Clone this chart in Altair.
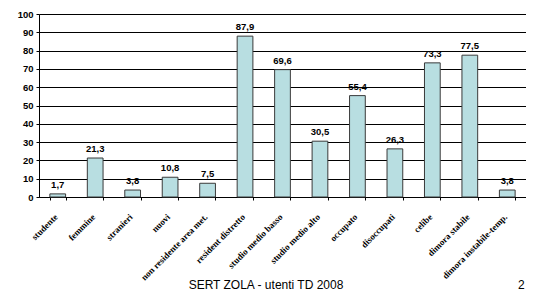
import altair as alt
import pandas as pd

categories = ["studente", "femmine", "stranieri", "nuovi", "non residente area met.",
              "resident distretto", "studio medio basso", "studio medio alto", "occupato",
              "disoccupati", "celibe", "dimora stabile", "dimora instabile-temp."]
values = [1.7, 21.3, 3.8, 10.8, 7.5, 87.9, 69.6, 30.5, 55.4, 26.3, 73.3, 77.5, 3.8]
y_ticks = [0, 10, 20, 30, 40, 50, 60, 70, 80, 90, 100]
footer = "SERT ZOLA - utenti TD 2008"
page_no = "2"

df = pd.DataFrame({
    "cat": categories,
    "val": values,
    "lab": [f"{v:.1f}".replace(".", ",") for v in values],
})

W, H = 487, 183
xs = alt.X("cat:N", sort=categories,
           scale=alt.Scale(paddingInner=0.58, paddingOuter=0.29),
           axis=alt.Axis(title=None, labelAngle=-45, labelAlign="right", labelBaseline="middle",
                         labelFont="Liberation Serif", labelFontWeight="bold", labelFontSize=9,
                         labelColor="black", labelPadding=15, labelOffset=-2, tickBand="extent",
                         tickSize=3, tickColor="black", domainColor="black", labelOverlap=False,
                         labelLimit=200))
ys = alt.Y("val:Q", scale=alt.Scale(domain=[0, 100], nice=False),
           axis=alt.Axis(title=None, values=y_ticks,
                         grid=True, gridColor="black", gridOpacity=1, domainColor="black",
                         tickColor="black", tickSize=3, labelFont="Liberation Sans",
                         labelFontWeight="bold", labelFontSize=9.5, labelColor="black",
                         labelPadding=3, labelOverlap=False))

base = alt.Chart(df).encode(x=xs, y=ys)
bars = base.mark_bar(fill="#b8dee1", stroke="#3a3a3a", strokeWidth=1)
labels = base.mark_text(font="Liberation Sans", fontWeight="bold", fontSize=9.5,
                        dy=-4, baseline="bottom", color="black").encode(text="lab:N")

foot = alt.Chart(pd.DataFrame({"t": [footer]})).mark_text(
    font="Liberation Sans", fontSize=12, color="black", align="center", baseline="alphabetic"
).encode(x=alt.value(227), y=alt.value(275), text="t:N")
pg = alt.Chart(pd.DataFrame({"t": [page_no]})).mark_text(
    font="Liberation Sans", fontSize=12, color="black", align="left", baseline="alphabetic"
).encode(x=alt.value(479), y=alt.value(275), text="t:N")

chart = alt.layer(bars, labels, foot, pg).properties(
    width=W, height=H,
    autosize=alt.AutoSizeParams(type="none"),
    padding={"left": 31, "top": 6, "right": 0, "bottom": 94},
).configure_view(stroke=None).configure(background="white")

chart.save("out.html", embed_options={"renderer": "svg", "actions": False})
